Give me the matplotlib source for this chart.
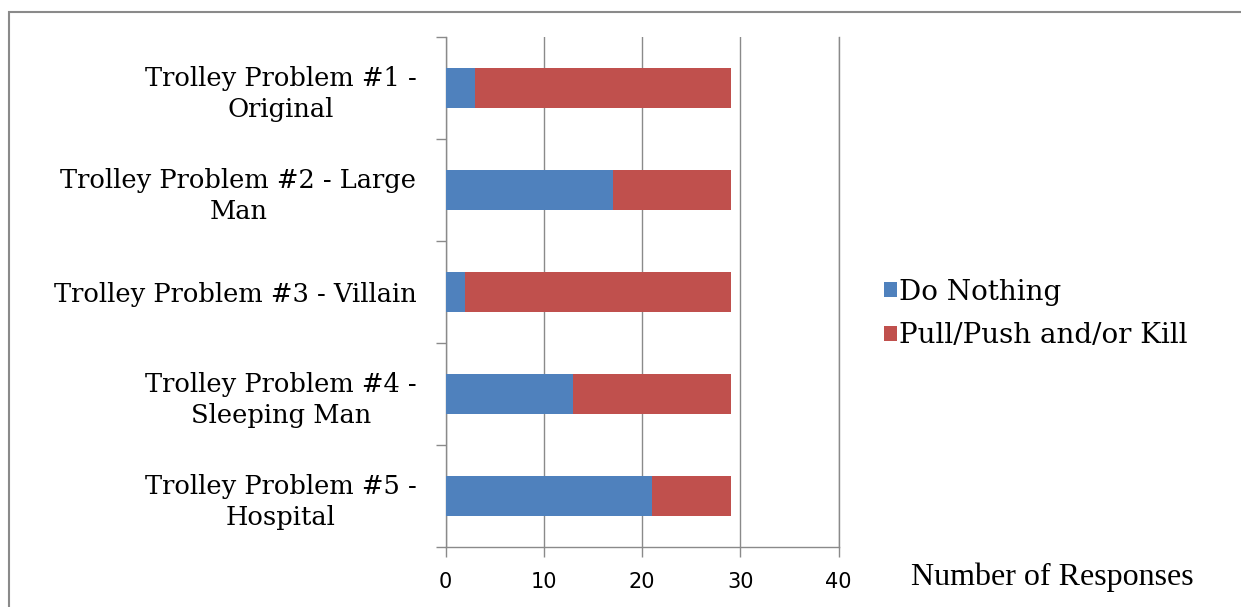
import numpy as np
import matplotlib.pyplot as plt
from matplotlib.patches import Rectangle

# Survey results per scenario
scenarios = ["Trolley Problem #1 -\nOriginal",
             "Trolley Problem #2 - Large\nMan",
             "Trolley Problem #3 - Villain",
             "Trolley Problem #4 -\nSleeping Man",
             "Trolley Problem #5 -\nHospital"]
do_nothing = [3, 17, 2, 13, 21]
pull_push_kill = [26, 12, 27, 16, 8]

blue = "#4F81BD"
red = "#C0504D"
grey = "#8A8A8A"

fig = plt.figure(figsize=(12.41, 6.07), dpi=100)
ax = fig.add_axes([0.3591, 0.0988, 0.3167, 0.8402])

y = np.arange(len(scenarios))
b1 = ax.barh(y, do_nothing, height=0.4, color=blue, label="Do Nothing", zorder=3)
b2 = ax.barh(y, pull_push_kill, left=do_nothing, height=0.4, color=red,
             label="Pull/Push and/or Kill", zorder=3)

ax.set_xlim(0, 40)
ax.set_ylim(-0.5, len(scenarios) - 0.5)
ax.invert_yaxis()

# category labels at centres, tick marks between categories
ax.set_yticks(y)
ax.set_yticklabels(scenarios, fontsize=18.5, family="DejaVu Serif")
for lbl in ax.get_yticklabels():
    lbl.set_multialignment("center")
    lbl.set_linespacing(1.3)
ax.tick_params(axis="y", which="major", length=0, pad=21)
ax.set_yticks(np.arange(-0.5, len(scenarios)), minor=True)
ax.tick_params(axis="y", which="minor", length=7, width=1, color=grey)

ax.set_xticks(np.arange(0, 41, 10))
ax.tick_params(axis="x", length=7, width=1, color=grey, labelsize=15, pad=11)
ax.xaxis.grid(True, color=grey, lw=1, zorder=0)

ax.spines["top"].set_visible(False)
for side in ["left", "bottom", "right"]:
    ax.spines[side].set_color(grey)
    ax.spines[side].set_linewidth(1)

fig.text(1052 / 1241, 1 - 577 / 607, "Number of Responses", ha="center", va="center",
         fontsize=23, family="Liberation Serif")

fig.legend(handles=[b1, b2], loc="center left", bbox_to_anchor=(884 / 1241, 1 - 314 / 607),
           frameon=False, prop={"family": "DejaVu Serif", "size": 20},
           handlelength=0.45, handleheight=0.45, handletextpad=0.1, labelspacing=0.6,
           borderpad=0, borderaxespad=0)

# outer frame
fig.patches.append(Rectangle((9 / 1241, -0.1), 1.1, 1.1 - 12 / 607, transform=fig.transFigure,
                             fill=False, edgecolor=grey, lw=1.5))

fig.savefig("out.png", dpi=100)
